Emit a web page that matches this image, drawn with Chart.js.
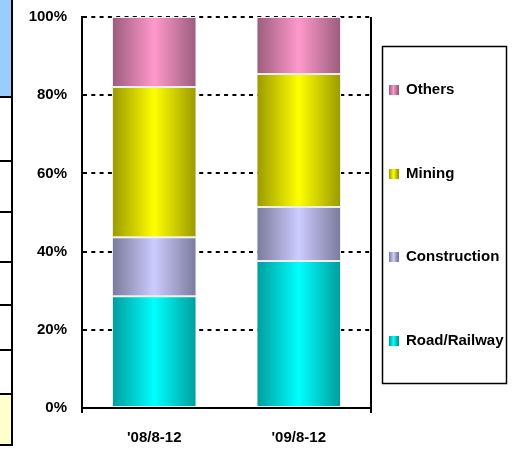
<!DOCTYPE html>
<html>
<head>
<meta charset="utf-8">
<script src="https://cdn.jsdelivr.net/npm/chart.js@4"></script>
<style>
  html, body { margin: 0; padding: 0; background: #fff; }
  #wrap { width: 517px; height: 449px; }
</style>
</head>
<body>
<div id="wrap"><canvas id="shareChart" width="517" height="449"></canvas></div>
<script>
const categories = ["'08/8-12", "'09/8-12"];
const roadRailway = [28.6, 37.6];
const construction = [15.1, 13.8];
const mining = [38.4, 34.0];
const others = [17.9, 14.6];
const yTicks = [0, 20, 40, 60, 80, 100];

const FONT = '"Liberation Sans", Arial, sans-serif';
const BAR_PCT = 0.585;

// edge / centre colours for the cylinder-ish shading
const shades = {
  'Road/Railway': ['#009c9c', '#00ffff'],
  'Construction': ['#7a7a9a', '#ccccff'],
  'Mining': ['#999900', '#ffff00'],
  'Others': ['#9a5c7c', '#ff99cc']
};

function barFill(name) {
  return function (c) {
    const [edge, mid] = shades[name];
    const chart = c.chart;
    const xs = chart.scales.x;
    if (!xs || c.dataIndex === undefined) return mid;
    const cx = xs.getPixelForValue(c.dataIndex);
    const half = xs.width / categories.length * BAR_PCT / 2;
    if (!isFinite(cx) || !isFinite(half) || half <= 0) return mid;
    const g = chart.ctx.createLinearGradient(cx - half, 0, cx + half, 0);
    g.addColorStop(0, edge);
    g.addColorStop(0.5, mid);
    g.addColorStop(1, edge);
    return g;
  };
}

function makeSet(label, data) {
  return {
    label: label,
    data: data,
    backgroundColor: barFill(label),
    borderColor: '#eeeeee',
    borderWidth: 1,
    borderSkipped: false,
    barPercentage: BAR_PCT,
    categoryPercentage: 1
  };
}

// cut-off table edge on the left of the picture
const leftStrip = {
  id: 'leftStrip',
  beforeDraw(chart) {
    const ctx = chart.ctx;
    ctx.save();
    ctx.fillStyle = '#99ccff';
    ctx.fillRect(0, 0, 12, 97);
    ctx.fillStyle = '#ffffcc';
    ctx.fillRect(0, 394, 12, 51);
    ctx.strokeStyle = '#000';
    ctx.lineWidth = 2;
    ctx.beginPath();
    [97, 161, 212, 262, 305, 350, 394, 445].forEach(y => {
      ctx.moveTo(0, y); ctx.lineTo(13, y);
    });
    ctx.moveTo(12, 0); ctx.lineTo(12, 446);
    ctx.stroke();
    ctx.restore();
  }
};

// right frame line, axis stubs and the boxed legend
const frameAndLegend = {
  id: 'frameAndLegend',
  afterDraw(chart) {
    const ctx = chart.ctx;
    const a = chart.chartArea;
    ctx.save();
    ctx.strokeStyle = '#000';
    ctx.lineWidth = 2;
    ctx.beginPath();
    ctx.moveTo(a.right, a.top); ctx.lineTo(a.right, a.bottom + 5);
    ctx.moveTo(a.left, a.bottom); ctx.lineTo(a.left, a.bottom + 5);
    ctx.stroke();

    ctx.lineWidth = 1.5;
    ctx.strokeRect(382.5, 46.5, 124, 337);

    const sets = chart.data.datasets.slice().reverse();
    const rowY = [90, 174, 257, 341];
    ctx.font = 'bold 15px ' + FONT;
    ctx.textBaseline = 'middle';
    sets.forEach((ds, i) => {
      const [edge, mid] = shades[ds.label];
      const y = rowY[i];
      const g = ctx.createLinearGradient(389, 0, 398, 0);
      g.addColorStop(0, edge);
      g.addColorStop(0.5, mid);
      g.addColorStop(1, edge);
      ctx.fillStyle = g;
      ctx.fillRect(389, y - 5, 10, 10);
      ctx.fillStyle = '#000';
      ctx.fillText(ds.label, 406, y);
    });
    ctx.restore();
  }
};

new Chart(document.getElementById('shareChart'), {
  type: 'bar',
  data: {
    labels: categories,
    datasets: [
      makeSet('Road/Railway', roadRailway),
      makeSet('Construction', construction),
      makeSet('Mining', mining),
      makeSet('Others', others)
    ]
  },
  options: {
    responsive: false,
    animation: false,
    layout: { padding: { top: 17, right: 146, left: 0, bottom: 0 } },
    plugins: {
      legend: { display: false },
      tooltip: { enabled: false }
    },
    scales: {
      x: {
        stacked: true,
        grid: { display: false },
        border: { display: true, color: '#000', width: 2 },
        ticks: {
          color: '#000',
          font: { family: FONT, size: 15, weight: 'bold' },
          padding: 13
        },
        afterFit(s) { s.height = 41; }
      },
      y: {
        stacked: true,
        min: 0,
        max: 100,
        afterBuildTicks(s) { s.ticks = yTicks.map(v => ({ value: v })); },
        grid: { color: '#000', lineWidth: 2, drawTicks: false },
        border: { display: true, color: '#000', width: 2, dash: [4, 4.3] },
        ticks: {
          color: '#000',
          font: { family: FONT, size: 15, weight: 'bold' },
          padding: 15,
          callback: v => v + '%'
        },
        afterFit(s) {
          s.width = 82;
          s.paddingTop = 0;
          s.paddingBottom = 0;
        }
      }
    }
  },
  plugins: [leftStrip, frameAndLegend]
});
</script>
</body>
</html>
